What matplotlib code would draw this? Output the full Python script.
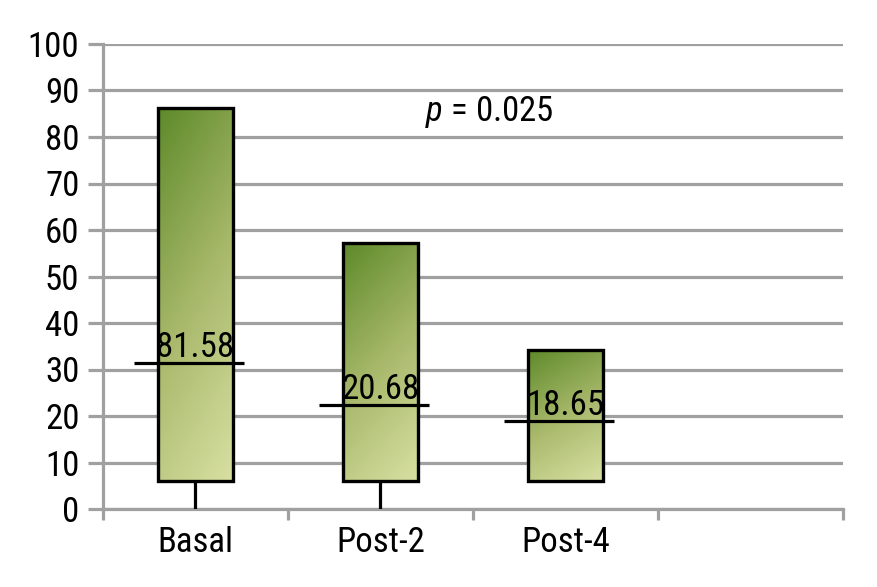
import matplotlib
matplotlib.use("Agg")
import matplotlib.pyplot as plt
import numpy as np
from matplotlib.patches import Rectangle
from matplotlib.colors import LinearSegmentedColormap

# ---- data ----
categories = ["Basal", "Post-2", "Post-4"]
box_low = [6.1, 6.1, 6.1]
box_high = [86.2, 57.2, 34.3]
median = [31.4, 22.4, 18.9]
whisker_low = [0.0, 0.0, 6.1]
labels = ["81.58", "20.68", "18.65"]
p_text = "$p$ = 0.025"
yticks = list(range(0, 101, 10))
n_slots = 4

plt.rcParams['font.family'] = ['Roboto Condensed', 'Liberation Sans', 'DejaVu Sans']
plt.rcParams['mathtext.fontset'] = 'custom'
plt.rcParams['mathtext.it'] = 'Roboto Condensed:italic'
plt.rcParams['mathtext.rm'] = 'Roboto Condensed'

W, H = 878, 587
fig = plt.figure(figsize=(W / 100, H / 100), dpi=100)
ax = fig.add_axes([103 / W, (H - 509) / H, (843 - 103) / W, (509 - 44) / H])

grid_c = "#a0a0a0"
ax.set_xlim(0, n_slots)
ax.set_ylim(0, 100)
ax.set_yticks(yticks)
ax.yaxis.grid(True, color=grid_c, lw=2.3)
ax.set_axisbelow(True)
ax.tick_params(axis='y', length=11, width=2.3, color=grid_c, pad=6, labelsize=25)
ax.set_xticks(np.arange(n_slots + 1))
ax.set_xticklabels([])
ax.tick_params(axis='x', which='major', length=8, width=2.3, color=grid_c)
ax.set_xticks(np.arange(len(categories)) + 0.5, minor=True)
ax.set_xticklabels(categories, minor=True)
ax.tick_params(axis='x', which='minor', length=0, pad=12, labelsize=25)
for s in ["top", "right"]:
    ax.spines[s].set_visible(False)
for s in ["left", "bottom"]:
    ax.spines[s].set_color(grid_c)
    ax.spines[s].set_linewidth(2.3)

cmap = LinearSegmentedColormap.from_list("g", ["#5e8a2a", "#a7b86a", "#d8e0a2"])
half = 0.203
u = np.linspace(0, 1, 60)[None, :]
v = np.linspace(0, 1, 200)[:, None]
grad = 0.75 * v + 0.25 * u  # row 0 = top (origin upper)

for i, cat in enumerate(categories):
    x = i + 0.5
    lo, hi = box_low[i], box_high[i]
    if whisker_low[i] < lo:
        ax.plot([x, x], [whisker_low[i], lo], color="black", lw=2.3, zorder=3,
                solid_capstyle='butt')
    rect = Rectangle((x - half, lo), 2 * half, hi - lo, facecolor="none",
                     edgecolor="black", lw=2.4, zorder=5)
    im = ax.imshow(grad, cmap=cmap, extent=(x - half, x + half, lo, hi),
                   origin="upper", aspect="auto", zorder=4, interpolation="bilinear")
    ax.add_patch(rect)
    im.set_clip_path(rect)
    ax.plot([x - 0.333, x + 0.263], [median[i], median[i]], color="black", lw=2.3,
            zorder=6, solid_capstyle='butt')
    ax.annotate(labels[i], (x, median[i]), xytext=(0, 4.5), textcoords="offset points",
                ha="center", va="baseline", fontsize=25, zorder=7)

ax.text(1.74, 85.4, p_text, ha="left", va="center", fontsize=25)

fig.savefig("out.png", dpi=100)
